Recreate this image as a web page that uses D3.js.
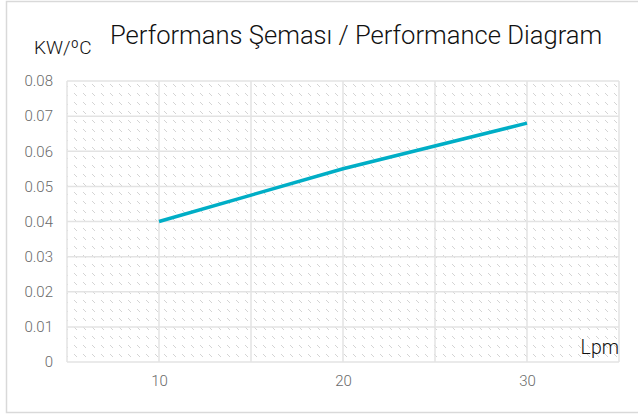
<!DOCTYPE html>
<html>
<head>
<meta charset="utf-8">
<script src="https://cdn.jsdelivr.net/npm/d3@7"></script>
<style>
  body { margin: 0; background: #fff; }
  svg { display: block; font-family: Roboto, "Liberation Sans", sans-serif; }
</style>
</head>
<body>
<script>
// data
var flows = [10, 20, 30];            // Lpm
var power = [0.040, 0.055, 0.068];   // KW/ºC
var xTicks = [10, 20, 30];
var yTicks = [0, 0.01, 0.02, 0.03, 0.04, 0.05, 0.06, 0.07, 0.08];
var xGrid = [5, 10, 15, 20, 25, 30, 35];

var svgWidth = 638, svgHeight = 414;
var margin = { top: 81, left: 67, right: 19, bottom: 52 };
var width = svgWidth - margin.left - margin.right;
var height = svgHeight - margin.top - margin.bottom;

var svg = d3.select("body").append("svg")
  .attr("width", svgWidth)
  .attr("height", svgHeight);

// hatch pattern for the plot background
var defs = svg.append("defs");
var pat = defs.append("pattern")
  .attr("id", "hatch")
  .attr("patternUnits", "userSpaceOnUse")
  .attr("width", 9)
  .attr("height", 9)
  .attr("x", margin.left + 2)
  .attr("y", margin.top + 2);
pat.append("line")
  .attr("x1", 1).attr("y1", 1).attr("x2", 4).attr("y2", 4)
  .attr("stroke", "#d4d4d4")
  .attr("stroke-width", 1);

// outer frame
svg.append("rect")
  .attr("x", 6.5).attr("y", 1.5)
  .attr("width", 700).attr("height", 411)
  .attr("fill", "none")
  .attr("stroke", "#d9d9d9")
  .attr("stroke-width", 1.5);

var chart = svg.append("g")
  .attr("transform", `translate(${margin.left}, ${margin.top})`);

var x = d3.scaleLinear().domain([5, 35]).range([0, width]);
var y = d3.scaleLinear().domain([0, 0.08]).range([height, 0]);

chart.append("rect")
  .attr("width", width)
  .attr("height", height)
  .attr("fill", "url(#hatch)");

// grid
chart.append("g")
  .selectAll("line")
  .data(xGrid)
  .enter()
  .append("line")
  .attr("x1", d => x(d)).attr("x2", d => x(d))
  .attr("y1", 0).attr("y2", height)
  .attr("stroke", "#e3e3e3")
  .attr("stroke-width", 1.5);

chart.append("g")
  .selectAll("line")
  .data(yTicks)
  .enter()
  .append("line")
  .attr("x1", 0).attr("x2", width)
  .attr("y1", d => y(d)).attr("y2", d => y(d))
  .attr("stroke", "#e3e3e3")
  .attr("stroke-width", 1.5);

// axes (labels only)
var leftAxis = d3.axisLeft(y).tickValues(yTicks).tickSize(0).tickPadding(14)
  .tickFormat(d => d === 0 ? "0" : d3.format(".2f")(d));
var bottomAxis = d3.axisBottom(x).tickValues(xTicks).tickSize(0).tickPadding(13);

var gy = chart.append("g").call(leftAxis);
var gx = chart.append("g").attr("transform", `translate(0, ${height})`).call(bottomAxis);
[gy, gx].forEach(function(g) {
  g.select(".domain").remove();
  g.selectAll("text")
    .attr("fill", "#6a6a6a")
    .style("font-size", "15px")
    .style("font-weight", 300)
    .style("font-family", "Roboto, sans-serif");
});

// the line
var line = d3.line()
  .x((d, i) => x(flows[i]))
  .y(d => y(d));

chart.append("path")
  .datum(power)
  .attr("d", line)
  .attr("fill", "none")
  .attr("stroke", "#00aec6")
  .attr("stroke-width", 3.5);

// texts
svg.append("text")
  .attr("x", 110)
  .attr("y", 44)
  .attr("fill", "#111")
  .style("font-size", "25.6px")
  .style("font-weight", 300)
  .text("Performans Şeması / Performance Diagram");

svg.append("text")
  .attr("x", 34)
  .attr("y", 54)
  .attr("fill", "#111")
  .style("font-size", "19px")
  .style("font-weight", 300)
  .text("KW/ºC");

svg.append("text")
  .attr("x", margin.left + width)
  .attr("y", 354)
  .attr("text-anchor", "end")
  .attr("fill", "#111")
  .style("font-size", "19.5px")
  .style("font-weight", 300)
  .text("Lpm");
</script>
</body>
</html>
